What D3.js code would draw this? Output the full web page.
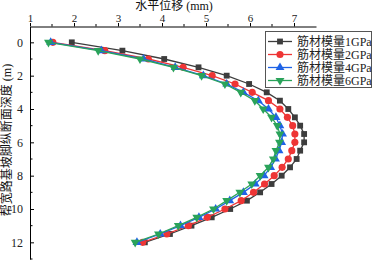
<!DOCTYPE html>
<html>
<head>
<meta charset="utf-8">
<title>Displacement profile</title>
<script src="https://cdn.jsdelivr.net/npm/d3@7/dist/d3.min.js"></script>
<style>
body { margin: 0; background: #fff; }
text { font-family: "Liberation Serif", "Noto Sans CJK SC", serif; }
</style>
</head>
<body>
<script>
// depth (m), one point every 0.5 m
var depth = [0, 0.5, 1, 1.5, 2, 2.5, 3, 3.5, 4, 4.5, 5, 5.5, 6,
             6.5, 7, 7.5, 8, 8.5, 9, 9.5, 10, 10.5, 11, 11.5, 12];

var disp1GPa = [1.95, 3.10, 4.05, 4.83, 5.47, 5.98, 6.38, 6.68, 6.87, 7.02, 7.14, 7.23, 7.23,
                7.14, 7.06, 6.91, 6.72, 6.49, 6.23, 5.93, 5.55, 5.13, 4.67, 4.18, 3.61];
var disp2GPa = [1.52, 2.70, 3.69, 4.48, 5.14, 5.66, 6.05, 6.42, 6.68, 6.85, 6.97, 7.02, 7.02,
                6.95, 6.87, 6.73, 6.55, 6.33, 6.08, 5.80, 5.43, 5.03, 4.60, 4.11, 3.56];
var disp4GPa = [1.47, 2.62, 3.58, 4.30, 4.94, 5.47, 5.85, 6.19, 6.42, 6.59, 6.68, 6.74, 6.72,
                6.66, 6.58, 6.47, 6.32, 6.12, 5.85, 5.54, 5.22, 4.84, 4.42, 3.96, 3.43];
var disp6GPa = [1.42, 2.55, 3.50, 4.26, 4.90, 5.43, 5.79, 6.11, 6.30, 6.49, 6.62, 6.68, 6.67,
                6.59, 6.53, 6.42, 6.23, 6.04, 5.77, 5.47, 5.17, 4.79, 4.37, 3.92, 3.39];

var seriesNames = ["筋材模量1GPa", "筋材模量2GPa", "筋材模量4GPa", "筋材模量6GPa"];
var xTicks = [1, 2, 3, 4, 5, 6, 7];
var yTicks = [0, 2, 4, 6, 8, 10, 12];

var colors = ["#3d3d3d", "#ee3535", "#1f63e6", "#2aa35a"];
var symbols = [d3.symbolSquare, d3.symbolCircle, d3.symbolTriangle, d3.symbolTriangle];
var symSize = [34, 40, 34, 34];
var rotate = [0, 0, 0, 180];

var w = 373, h = 260;
var svg = d3.select("body").append("svg")
    .attr("width", w)
    .attr("height", h);

var x = d3.scaleLinear().domain([1, 7.5]).range([30, 316]);
var y = d3.scaleLinear().domain([-0.95, 13]).range([26.5, 259]);

// top axis
var xAxis = d3.axisTop(x)
    .tickValues(xTicks)
    .tickSize(3.5)
    .tickSizeOuter(0)
    .tickPadding(1)
    .tickFormat(d3.format("d"));
var gx = svg.append("g")
    .attr("transform", "translate(0," + y(-0.95) + ")")
    .call(xAxis);
gx.selectAll("text").attr("font-size", "11px").attr("fill", "#222");
// minor ticks on x
gx.selectAll(".minor")
    .data(d3.range(1.5, 7.5, 1))
    .enter().append("line")
    .attr("x1", function(d) { return x(d); })
    .attr("x2", function(d) { return x(d); })
    .attr("y1", 0).attr("y2", -2.5)
    .attr("stroke", "#000");

// left axis, ticks pointing inward
var yAxis = d3.axisLeft(y)
    .tickValues(yTicks)
    .tickSize(-4)
    .tickSizeOuter(0)
    .tickPadding(7)
    .tickFormat(d3.format("d"));
var gy = svg.append("g")
    .attr("transform", "translate(" + x(1) + ",0)")
    .call(yAxis);
gy.selectAll("text").attr("font-size", "12px").attr("fill", "#222");
gy.selectAll(".minor")
    .data(d3.range(1, 14, 2))
    .enter().append("line")
    .attr("y1", function(d) { return y(d); })
    .attr("y2", function(d) { return y(d); })
    .attr("x1", 0).attr("x2", 2.5)
    .attr("stroke", "#000");

// axis titles
svg.append("text")
    .attr("x", 174).attr("y", 9.5)
    .attr("text-anchor", "middle")
    .attr("font-size", "12px")
    .attr("fill", "#111")
    .text("水平位移 (mm)");

svg.append("text")
    .attr("transform", "translate(11,140) rotate(-90)")
    .attr("text-anchor", "middle")
    .attr("font-size", "12px")
    .attr("fill", "#111")
    .text("帮宽路基坡脚纵断面深度 (m)");

// curves
var allSeries = [disp1GPa, disp2GPa, disp4GPa, disp6GPa];
var line = d3.line()
    .x(function(d) { return x(d[0]); })
    .y(function(d) { return y(d[1]); });

allSeries.forEach(function(vals, k) {
    var pts = vals.map(function(v, i) { return [v, depth[i]]; });
    svg.append("path")
        .datum(pts)
        .attr("fill", "none")
        .attr("stroke", colors[k])
        .attr("stroke-width", 1.3)
        .attr("d", line);
    svg.selectAll(".m" + k)
        .data(pts)
        .enter().append("path")
        .attr("class", "m" + k)
        .attr("d", d3.symbol().type(symbols[k]).size(symSize[k]))
        .attr("transform", function(d) {
            return "translate(" + x(d[0]) + "," + y(d[1]) + ") rotate(" + rotate[k] + ")";
        })
        .attr("fill", colors[k]);
});

// legend
var lg = svg.append("g");
lg.append("rect")
    .attr("x", 265.5).attr("y", 31.5)
    .attr("width", 106).attr("height", 56)
    .attr("fill", "#fff")
    .attr("stroke", "#555")
    .attr("stroke-width", 1);
seriesNames.forEach(function(name, k) {
    var ly = 41.5 + k * 13;
    lg.append("line")
        .attr("x1", 268).attr("x2", 292)
        .attr("y1", ly).attr("y2", ly)
        .attr("stroke", colors[k])
        .attr("stroke-width", 1.3);
    lg.append("path")
        .attr("d", d3.symbol().type(symbols[k]).size(symSize[k]))
        .attr("transform", "translate(280," + ly + ") rotate(" + rotate[k] + ")")
        .attr("fill", colors[k]);
    lg.append("text")
        .attr("x", 297).attr("y", ly + 4.5)
        .attr("font-size", "12px")
        .attr("fill", "#222")
        .text(name);
});
</script>
</body>
</html>
